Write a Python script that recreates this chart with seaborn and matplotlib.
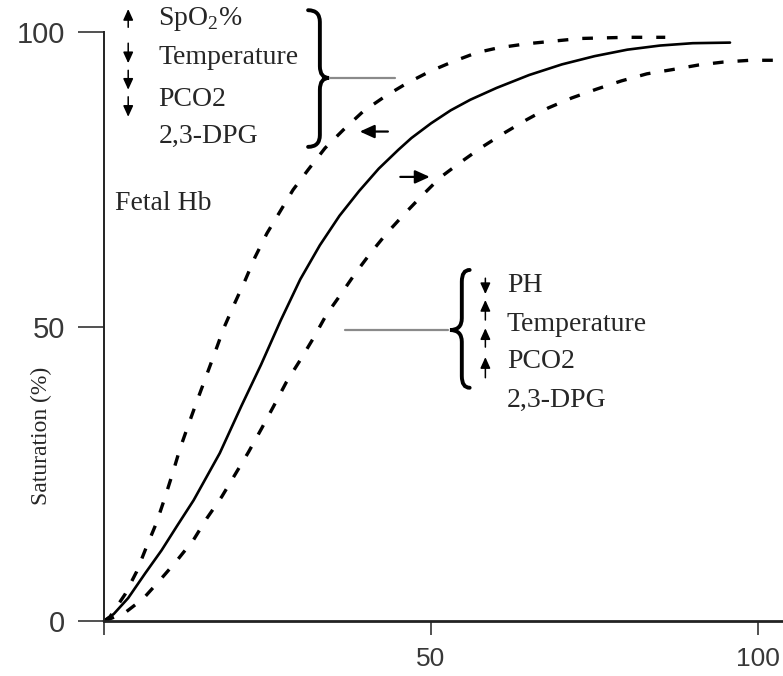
import matplotlib
matplotlib.use("Agg")
import matplotlib.pyplot as plt
from matplotlib.path import Path
from matplotlib.patches import PathPatch
import seaborn as sns

# oxygen dissociation curves (PO2 vs saturation %)
normal_po2 = [0, 1.5, 3.7, 6.3, 8.8, 11.2, 13.7, 17.7, 21, 24, 27, 30, 33, 36, 39, 42,
              45, 47, 50, 53, 56, 60, 65, 70, 75, 80, 85, 90, 95.7]
normal_sat = [0, 1.2, 3.9, 8.1, 12, 16.2, 20.5, 28.5, 36.5, 43.5, 51, 58, 63.8, 68.8, 73,
              76.8, 80, 82, 84.5, 86.7, 88.5, 90.5, 92.7, 94.5, 95.9, 97, 97.7, 98.1, 98.2]

left_po2 = [0, 0.9, 3.2, 5, 6.5, 8, 9.3, 10.5, 11.6, 12.9, 14.2, 15.7, 17, 18.3, 20, 21.6,
            23.1, 24.9, 26.9, 28.9, 31.2, 33.8, 36.6, 39.6, 43, 46.3, 49.8, 53.4, 57,
            60.2, 64.6, 72.8, 80, 85.8]
left_sat = [0, 0.7, 4.5, 8.4, 12.6, 16.6, 20.9, 25.1, 29.2, 33.3, 37.3, 41.8, 45.7, 49.7, 54,
            57.9, 61.8, 65.8, 69.5, 73.2, 76.6, 80.3, 83.4, 86.5, 89.1, 91.3, 93.3, 95,
            96.5, 97.3, 98, 98.9, 99.1, 99.1]

right_po2 = [0, 1.2, 3.2, 6, 8.6, 11.1, 13.7, 15.7, 18, 20, 22.1, 24.1, 25.9, 27.9, 30, 32,
             34, 36.1, 38.4, 40.7, 43.2, 46, 48.6, 51.4, 54.4, 57.7, 61.1, 64.6, 67.9,
             71.5, 75.3, 79.1, 83, 86.8, 90.9, 94.7, 98.8, 103.5]
right_sat = [0, 0.5, 1.4, 3.8, 7, 10.2, 13.8, 17.4, 21.1, 24.8, 28.7, 32.7, 36.4, 40.6, 44.3,
             48, 52, 55.3, 59, 62.4, 65.8, 69.2, 72.2, 75.3, 77.8, 80.4, 82.8, 85.1, 87.1,
             88.8, 90.3, 91.7, 92.9, 93.6, 94.4, 94.9, 95.2, 95.2]

x_ticks = [0, 50, 100]
x_tick_labels = ["", "50", "100"]
y_ticks = [0, 50, 100]

left_labels = ["SpO$_\\mathrm{2}$%", "Temperature", "PCO2", "2,3-DPG"]
right_labels = ["PH", "Temperature", "PCO2", "2,3-DPG"]

sns.set_style("ticks")
plt.rcParams["font.family"] = ["Liberation Sans", "DejaVu Sans"]
plt.rcParams["mathtext.fontset"] = "custom"
plt.rcParams["mathtext.rm"] = "Liberation Serif"
serif = ["Liberation Serif", "DejaVu Serif"]

fig = plt.figure(figsize=(7.83, 6.76), dpi=100)
ax = fig.add_axes([104 / 783, 55 / 676, 679 / 783, 589 / 676])

dash = (0, (3.2, 4.2))
sns.lineplot(x=normal_po2, y=normal_sat, color="black", lw=1.9, ax=ax, clip_on=False)
sns.lineplot(x=left_po2, y=left_sat, color="black", lw=2.4, linestyle=dash, ax=ax, clip_on=False)
sns.lineplot(x=right_po2, y=right_sat, color="black", lw=2.4, linestyle=dash, ax=ax, clip_on=False)

ax.set_xlim(0, 103.8)
ax.set_ylim(0, 100)
ax.set_xticks(x_ticks, x_tick_labels)
ax.set_yticks(y_ticks)
ax.tick_params(axis="y", length=19, width=1.1, pad=9, labelsize=21,
               color="#222222", labelcolor="#383838")
ax.tick_params(axis="x", length=10, width=1.1, pad=9, labelsize=19,
               color="#222222", labelcolor="#383838")
for s in ["top", "right"]:
    ax.spines[s].set_visible(False)
ax.spines["left"].set_linewidth(1.4)
ax.spines["bottom"].set_linewidth(2.0)
ax.spines["left"].set_color("#222222")
ax.spines["bottom"].set_color("#222222")

ax.set_ylabel("Saturation (%)", family=serif, fontsize=17)
ax.yaxis.set_label_coords(-0.077, 0.314)


def brace(x_stem, x_tip, x_end, y_top, y_mid, y_bot, r):
    verts = [(x_end, y_top), (x_stem, y_top), (x_stem, y_top - r),
             (x_stem, y_mid + r), (x_stem, y_mid), (x_tip, y_mid),
             (x_stem, y_mid), (x_stem, y_mid - r),
             (x_stem, y_bot + r), (x_stem, y_bot), (x_end, y_bot)]
    codes = [Path.MOVETO, Path.CURVE3, Path.CURVE3, Path.LINETO, Path.CURVE3,
             Path.CURVE3, Path.CURVE3, Path.CURVE3, Path.LINETO, Path.CURVE3, Path.CURVE3]
    ax.add_patch(PathPatch(Path(verts, codes), fill=False, lw=2.8, color="black",
                           clip_on=False, capstyle="round"))


def arrow(x0, y0, x1, y1, lw=1.1, scale=12):
    ax.annotate("", xy=(x1, y1), xytext=(x0, y0), annotation_clip=False,
                arrowprops=dict(arrowstyle="-|>,head_length=0.55,head_width=0.25",
                                mutation_scale=scale, lw=lw, color="black",
                                shrinkA=0, shrinkB=0))


# left-shift annotation block
for lab, yy in zip(left_labels, [102.2, 95.6, 88.6, 82.3]):
    ax.text(8.3, yy, lab, family=serif, fontsize=20, va="center", ha="left")
arrow(3.7, 100.8, 3.7, 103.9)
arrow(3.7, 98.1, 3.7, 94.7)
arrow(3.7, 93.5, 3.7, 90.2)
arrow(3.7, 89.0, 3.7, 85.6)
brace(33.0, 34.4, 31.2, 103.7, 92.2, 80.5, 2.0)
ax.plot([34.6, 44.5], [92.2, 92.2], color="#8a8a8a", lw=1.6, clip_on=False)

# right-shift annotation block
for lab, yy in zip(right_labels, [57.0, 50.3, 44.0, 37.5]):
    ax.text(61.6, yy, lab, family=serif, fontsize=20, va="center", ha="left")
arrow(58.3, 58.2, 58.3, 55.5)
arrow(58.3, 51.1, 58.3, 54.5)
arrow(58.3, 46.5, 58.3, 49.7)
arrow(58.3, 41.3, 58.3, 44.8)
brace(54.7, 52.9, 55.9, 59.6, 49.4, 39.6, 2.0)
ax.plot([36.9, 52.6], [49.4, 49.4], color="#8a8a8a", lw=1.6, clip_on=False)

ax.text(1.7, 70.8, "Fetal Hb", family=serif, fontsize=20, va="center", ha="left")

# shift arrows
arrow(43.4, 83.1, 39.1, 83.1, lw=1.6, scale=16)
arrow(45.3, 75.4, 49.8, 75.4, lw=1.6, scale=16)

fig.savefig("out.png", dpi=100)
